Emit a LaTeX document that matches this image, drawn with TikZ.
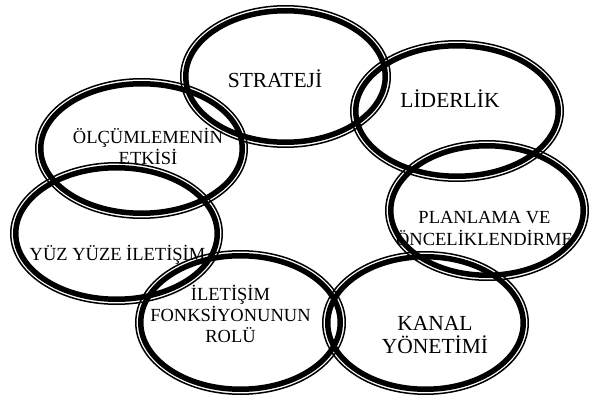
\documentclass[tikz,border=0pt]{standalone}
\usepackage{fontspec}
\setmainfont{Liberation Serif}
\usepackage{tikz}

\tikzset{
  ringthin/.style={line width=1.5pt},
  ringthick/.style={line width=5.5pt},
  biglabel/.style={font=\fontsize{21.5}{23}\selectfont, align=center, anchor=base},
  smalllabel/.style={font=\fontsize{18.5}{21}\selectfont, align=center, anchor=base}
}

\begin{document}
\begin{tikzpicture}[x=1pt,y=-1pt]
\useasboundingbox (0,0) rectangle (589,398);
% labels (base = last line)
\node[biglabel] (strateji) at (275,88) {STRATEJİ};
\node[biglabel] (liderlik) at (450,108) {LİDERLİK};
\node[smalllabel] (planlama) at (484.5,245) {PLANLAMA VE\\ÖNCELİKLENDİRME};
\node[biglabel] (kanal) at (435,353) {KANAL\\YÖNETİMİ};
\node[smalllabel] (rol) at (230.5,342) {İLETİŞİM\\FONKSİYONUNUN\\ROLÜ};
\node[smalllabel] (yuzyuze) at (117.5,260) {YÜZ YÜZE İLETİŞİM};
\node[smalllabel] (olcum) at (148,165) {ÖLÇÜMLEMENİN\\ETKİSİ};
% rings
\foreach \cx/\cy/\rx/\ry in {285.5/76.5/105.5/71.5, 457/111/107/71,
    487/210.5/102/70.5, 425.5/323/103.5/72, 240.5/322.5/105.5/72.5,
    116.5/233.5/106.5/71.5, 141.5/148.5/106.5/70.5}{
  \pgfmathsetmacro{\ax}{\rx-0.75}
  \pgfmathsetmacro{\ay}{\ry-0.75}
  \pgfmathsetmacro{\bx}{\rx-5.75}
  \pgfmathsetmacro{\by}{\ry-5.75}
  \draw[ringthin] (\cx,\cy) ellipse [x radius=\ax, y radius=\ay];
  \draw[ringthick] (\cx,\cy) ellipse [x radius=\bx, y radius=\by];
}
\end{tikzpicture}
\end{document}
